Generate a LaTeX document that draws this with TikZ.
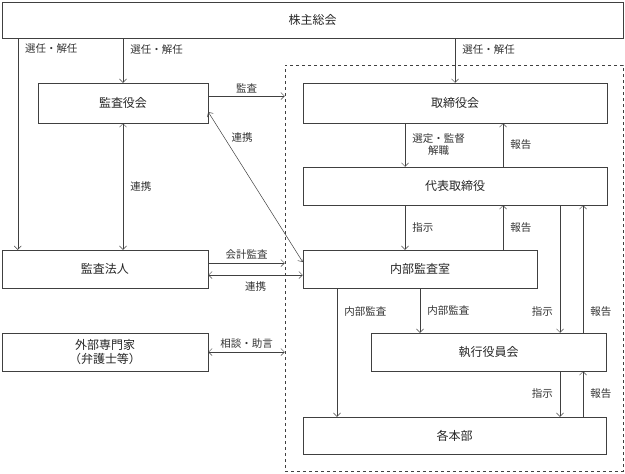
\documentclass[tikz,border=0pt]{standalone}
\usepackage{fontspec}
\newfontfamily\jp{Noto Sans CJK JP}
\usetikzlibrary{arrows.meta,positioning}
\begin{document}
\begin{tikzpicture}[x=1pt,y=-1pt,
	>={Straight Barb[length=3.5pt,width=7pt]},
	line/.style={draw=black!75, line width=0.5pt},
	box/.style={line, rectangle, inner sep=0pt, font=\jp\fontsize{12}{14.5}\selectfont, text=black!85},
	lbl/.style={font=\jp\fontsize{10.5}{12}\selectfont, text=black!80, inner xsep=7pt, inner ysep=3pt}]
	\useasboundingbox (0,0) rectangle (625,474);
	% group of the company
	\node[line, dashed, minimum width=338pt, minimum height=406pt] (grp) at (454,268) {};
	\node[box, minimum width=621pt, minimum height=36pt] (kabu) at (312.5,20) {株主総会};
	\node[box, minimum width=170pt, minimum height=40pt] (kansayaku) at (123,103) {監査役会};
	\node[box, minimum width=304pt, minimum height=40pt] (torishimari) at (455,103) {取締役会};
	\node[box, minimum width=304pt, minimum height=38pt] (daihyo) at (455,186) {代表取締役};
	\node[box, minimum width=206pt, minimum height=38pt] (hojin) at (105,269) {監査法人};
	\node[box, minimum width=234pt, minimum height=38pt] (naibu) at (420,269) {内部監査室};
	\node[box, minimum width=206pt, minimum height=38pt, align=center] (gaibu) at (105,352) {外部専門家\\（弁護士等）};
	\node[box, minimum width=235pt, minimum height=38pt] (shikko) at (488.5,352) {執行役員会};
	\node[box, minimum width=303pt, minimum height=37pt] (honbu) at (454.5,435.5) {各本部};
	% shareholders
	\draw[line,->] ([xshift=16pt]hojin.north west |- kabu.south) -- ([xshift=16pt]hojin.north west) node[lbl, right, pos=0.05] {選任・解任};
	\draw[line,->] (kabu.south -| kansayaku.north) -- (kansayaku.north) node[lbl, right, pos=0.25] {選任・解任};
	\draw[line,->] (kabu.south -| torishimari.north) -- (torishimari.north) node[lbl, right, pos=0.25] {選任・解任};
	% audit
	\draw[line,->] ([yshift=7pt]kansayaku.east) -- ([yshift=7pt]kansayaku.east -| grp.west) node[lbl, above, midway] {監査};
	\draw[line,<->] ([yshift=-9pt]kansayaku.east) -- ([yshift=7pt]naibu.west) node[lbl, right, pos=0.17] {連携};
	\draw[line,<->] (kansayaku.south) -- (kansayaku.south |- hojin.north) node[lbl, right, midway] {連携};
	\draw[line,->] ([yshift=6pt]hojin.east) -- ([yshift=6pt]hojin.east -| grp.west) node[lbl, above, midway] {会計監査};
	\draw[line,<->] ([yshift=-6pt]hojin.east) -- ([yshift=-6pt]naibu.west) node[lbl, below, midway, yshift=-3pt] {連携};
	\draw[line,<->] (gaibu.east) -- (gaibu.east -| grp.west) node[lbl, above, midway] {相談・助言};
	% board and executives
	\draw[line,->] ([xshift=-50pt]torishimari.south) -- ([xshift=-50pt]daihyo.north) node[lbl, right, midway, align=center] {選定・監督\\解職};
	\draw[line,->] ([xshift=48pt]daihyo.north) -- ([xshift=48pt]torishimari.south) node[lbl, right, midway] {報告};
	\draw[line,->] ([xshift=-50pt]daihyo.south) -- ([xshift=-50pt]daihyo.south |- naibu.north) node[lbl, right, midway] {指示};
	\draw[line,->] ([xshift=48pt]daihyo.south |- naibu.north) -- ([xshift=48pt]daihyo.south) node[lbl, right, midway] {報告};
	\draw[line,->] ([xshift=105pt]daihyo.south) -- ([xshift=105pt]daihyo.south |- shikko.north) node[lbl, left, pos=0.83] {指示};
	\draw[line,->] ([xshift=128pt]daihyo.south |- shikko.north) -- ([xshift=128pt]daihyo.south) node[lbl, right, pos=0.17] {報告};
	% internal audit
	\draw[line,->] ([xshift=-83pt]naibu.south) -- ([xshift=-83pt]naibu.south |- honbu.north) node[lbl, right, pos=0.18] {内部監査};
	\draw[line,->] (naibu.south) -- (naibu.south |- shikko.north) node[lbl, right, midway] {内部監査};
	\draw[line,->] ([xshift=71.5pt]shikko.south) -- ([xshift=71.5pt]shikko.south |- honbu.north) node[lbl, left, midway] {指示};
	\draw[line,->] ([xshift=94.5pt]shikko.south |- honbu.north) -- ([xshift=94.5pt]shikko.south) node[lbl, right, midway] {報告};
\end{tikzpicture}
\end{document}
